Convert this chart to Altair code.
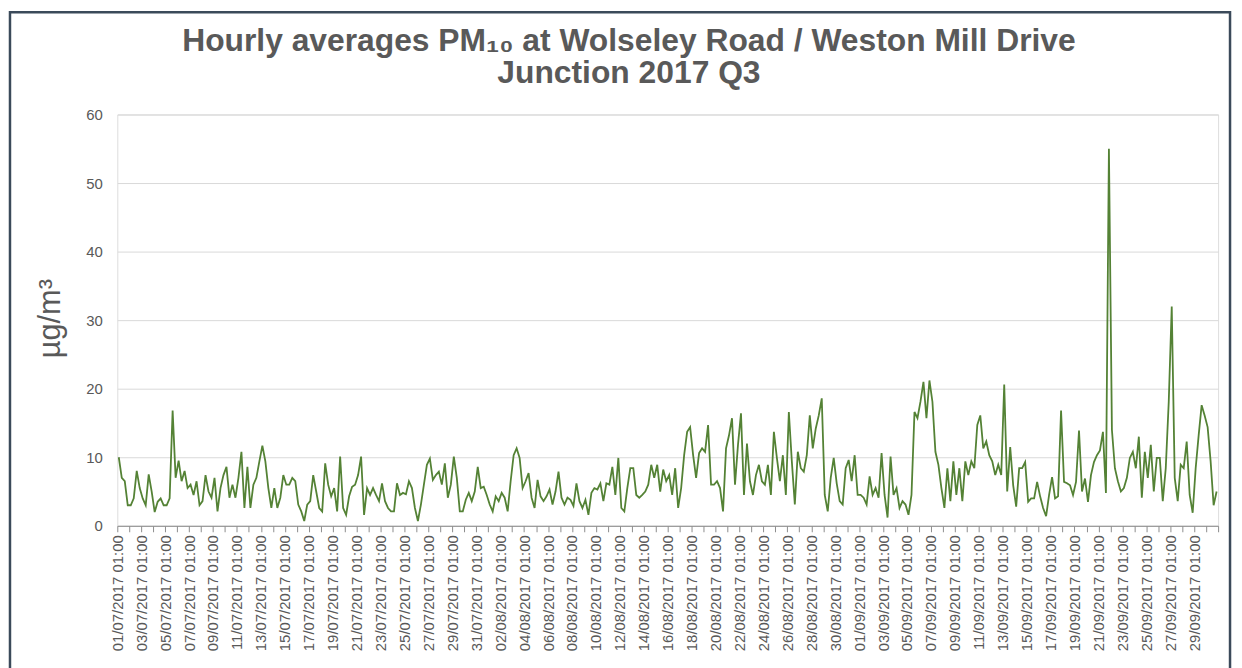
import json
import altair as alt
import pandas as pd

# Readings (µg/m³), four per day at 03:00, 09:00, 15:00, 21:00 offsets after 01:00
july_values = [
    10, 7, 6.5, 3,  3, 4, 8, 5.5,  4, 3, 7.5, 5,  2, 3.5, 4, 3,
    3, 4, 16.8, 7,  9.5, 6.5, 8, 5.5,  6, 4.5, 6.5, 3,  3.6, 7.4, 5, 4.1,
    7, 2.1, 5.5, 7.4,  8.6, 4.1, 6, 4.1,  7, 10.8, 2.6, 8.6,  2.6, 6, 7, 9.4,
    11.7, 9.4, 5.5, 2.6,  5.5, 2.6, 4.1, 7.4,  6, 6, 7, 6.5,  3.1, 2.1, 0.7, 3.1,
    3.6, 7.4, 5, 2.6,  2.1, 9.1, 6, 4.3,  5.5, 2.1, 10.1, 2.6,  1.6, 4.3, 5.7, 6,
    7.4, 10.1, 1.6, 5.5,  4.5, 5.5, 4.5, 3.6,  6.2, 3.6, 2.6, 2.1,  2.1, 6.2, 4.5, 4.8,
    4.6, 6.5, 5.5, 2.6,  0.7, 3.1, 6, 8.9,  9.8, 6.7, 7.4, 7.9,  6, 9.1, 4.1, 6,
    10.1, 7, 2.1, 2.1,  3.8, 4.8, 3.6, 5,  8.6, 5.5, 5.7, 4.5,
]
august_values = [
    3.1, 2.1, 4.3, 3.6,  4.8, 4.1, 2.1, 6.5,  10.3, 11.3, 9.9, 5.5,  6.5, 7.7, 4.1, 2.6,
    6.7, 4.3, 3.6, 4.3,  5.3, 3.1, 5, 7.9,  4.1, 3.1, 4.1, 3.8,  2.9, 6.2, 3.6, 2.6,
    3.8, 1.6, 4.8, 5.5,  5.3, 6.2, 3.6, 6.2,  6, 8.6, 4.5, 9.9,  2.6, 2.1, 5.5, 8.4,
    8.4, 4.5, 4.1, 4.5,  5, 6, 8.9, 7,  8.9, 5, 8.2, 6.5,  7.4, 4.5, 8.4, 2.6,
    5.5, 10.3, 13.7, 14.4,  10.3, 7, 10.6, 11.3,  10.8, 14.7, 6, 6,  6.5, 5.5, 2.1, 11.3,
    13.2, 15.7, 6, 11.8,  16.4, 4.5, 12, 6.5,  4.5, 7.4, 8.9, 6.5,  6, 8.9, 4.5, 13.7,
    9.9, 6.5, 10.3, 4.5,  16.6, 9.4, 3.1, 10.8,  8.4, 7.9, 10.3, 16.1,  11.3, 14.2, 16.1, 18.6,
    4.5, 2.1, 7, 9.9,  6.2, 3.6, 3.1, 8.4,  9.6, 6.5, 10.3, 4.5,
]
september_values = [
    4.5, 4.1, 3.1, 7.2,  4.5, 5.5, 4.1, 10.6,  4.5, 1.2, 10.1, 4.5,  5.5, 2.6, 3.6, 3.1,
    1.6, 4.5, 16.6, 15.7,  18.1, 21, 15.7, 21.2,  18.1, 10.8, 8.9, 5.5,  2.6, 8.4, 3.6, 9.4,
    4.5, 8.4, 3.6, 9.4,  7.4, 9.4, 8.4, 14.7,  16.1, 11.3, 12.3, 10.3,  9.4, 7.4, 8.9, 7.4,
    20.6, 5, 11.5, 5.9,  2.8, 8.4, 8.4, 9.3,  3.5, 4, 4, 6.4,  4.3, 2.6, 1.4, 4.5,
    7.1, 4, 4.3, 16.8,  6.4, 6.2, 5.9, 4.5,  6.4, 13.9, 5, 6.9,  3.5, 7.4, 9.3, 10.3,
    11, 13.7, 4.8, 55,  14, 8.4, 6.5, 5,  5.5, 7, 9.9, 10.8,  8.4, 13, 4.1, 10.8,
    7, 11.8, 5, 9.9,  9.9, 3.6, 8.4, 18.1,  32, 7, 3.6, 8.9,  8.4, 12.3, 4.5, 1.9,
    8.4, 13.2, 17.6, 16.1,  14.4, 9.4, 3, 5,
]
sample_hours = [3, 9, 15, 21]

tick_labels = [
    "01/07/2017 01:00", "03/07/2017 01:00", "05/07/2017 01:00", "07/07/2017 01:00",
    "09/07/2017 01:00", "11/07/2017 01:00", "13/07/2017 01:00", "15/07/2017 01:00",
    "17/07/2017 01:00", "19/07/2017 01:00", "21/07/2017 01:00", "23/07/2017 01:00",
    "25/07/2017 01:00", "27/07/2017 01:00", "29/07/2017 01:00", "31/07/2017 01:00",
    "02/08/2017 01:00", "04/08/2017 01:00", "06/08/2017 01:00", "08/08/2017 01:00",
    "10/08/2017 01:00", "12/08/2017 01:00", "14/08/2017 01:00", "16/08/2017 01:00",
    "18/08/2017 01:00", "20/08/2017 01:00", "22/08/2017 01:00", "24/08/2017 01:00",
    "26/08/2017 01:00", "28/08/2017 01:00", "30/08/2017 01:00", "01/09/2017 01:00",
    "03/09/2017 01:00", "05/09/2017 01:00", "07/09/2017 01:00", "09/09/2017 01:00",
    "11/09/2017 01:00", "13/09/2017 01:00", "15/09/2017 01:00", "17/09/2017 01:00",
    "19/09/2017 01:00", "21/09/2017 01:00", "23/09/2017 01:00", "25/09/2017 01:00",
    "27/09/2017 01:00", "29/09/2017 01:00",
]
y_ticks = [0, 10, 20, 30, 40, 50, 60]

values = july_values + august_values + september_values
n_days = len(values) // len(sample_hours)
hours = [d * 24 + h for d in range(n_days) for h in sample_hours]
df = pd.DataFrame({"hour": hours, "pm10": values})

total_hours = n_days * 24
day_ticks = list(range(0, total_hours + 1, 24))
label_expr = (
    "(datum.value % 48 == 0 && datum.value / 48 < "
    + str(len(tick_labels))
    + ") ? "
    + json.dumps(tick_labels)
    + "[datum.value / 48] : ''"
)

GREY = "#595959"
FONT = "Liberation Sans"

frame = alt.Chart(pd.DataFrame({"f": [0]})).mark_rect(
    fillOpacity=0, stroke="#3b4a5a", strokeWidth=2.5
).encode(
    x=alt.value(-108), x2=alt.value(1120), y=alt.value(-103), y2=alt.value(600)
)

line = alt.Chart(df).mark_line(color="#548235", strokeWidth=1.8).encode(
    x=alt.X(
        "hour:Q",
        scale=alt.Scale(domain=[0, total_hours], nice=False, zero=False),
        axis=alt.Axis(
            values=day_ticks,
            labelExpr=label_expr,
            labelAngle=-90,
            labelFlush=False,
            labelOverlap=False,
            labelFontSize=15,
            labelFont=FONT,
            labelColor=GREY,
            labelPadding=3,
            tickSize=6,
            tickColor="#8c8c8c",
            domainColor="#8c8c8c",
            grid=False,
            title=None,
        ),
    ),
    y=alt.Y(
        "pm10:Q",
        scale=alt.Scale(domain=[0, 60], nice=False),
        axis=alt.Axis(
            values=y_ticks,
            labelFontSize=15,
            labelFont=FONT,
            labelColor=GREY,
            labelPadding=15,
            tickSize=0,
            domain=False,
            gridColor="#d9d9d9",
            gridWidth=1,
            title="µg/m³",
            titleFont=FONT,
            titleFontSize=31,
            titleFontWeight="normal",
            titleColor=GREY,
            titleX=-67,
            titleY=205,
            titleAlign="center",
            titleBaseline="middle",
        ),
    ),
)

chart = alt.layer(frame, line).properties(
    width=1108,
    height=414,
    padding={"left": 110, "top": 105, "right": 16, "bottom": 150},
    autosize=alt.AutoSizeParams(type="none"),
    title=alt.TitleParams(
        text=["Hourly averages PM₁₀ at Wolseley Road / Weston Mill Drive", "Junction 2017 Q3"],
        font=FONT,
        fontSize=32,
        fontWeight="bold",
        color=GREY,
        anchor="middle",
        dx=-39,
        dy=102,
        offset=22,
        lineHeight=33,
    ),
).configure_view(
    stroke="#4a6e30", strokeWidth=1.5
).configure(background="white")

chart.save("out.html", embed_options={"renderer": "svg", "actions": False})
